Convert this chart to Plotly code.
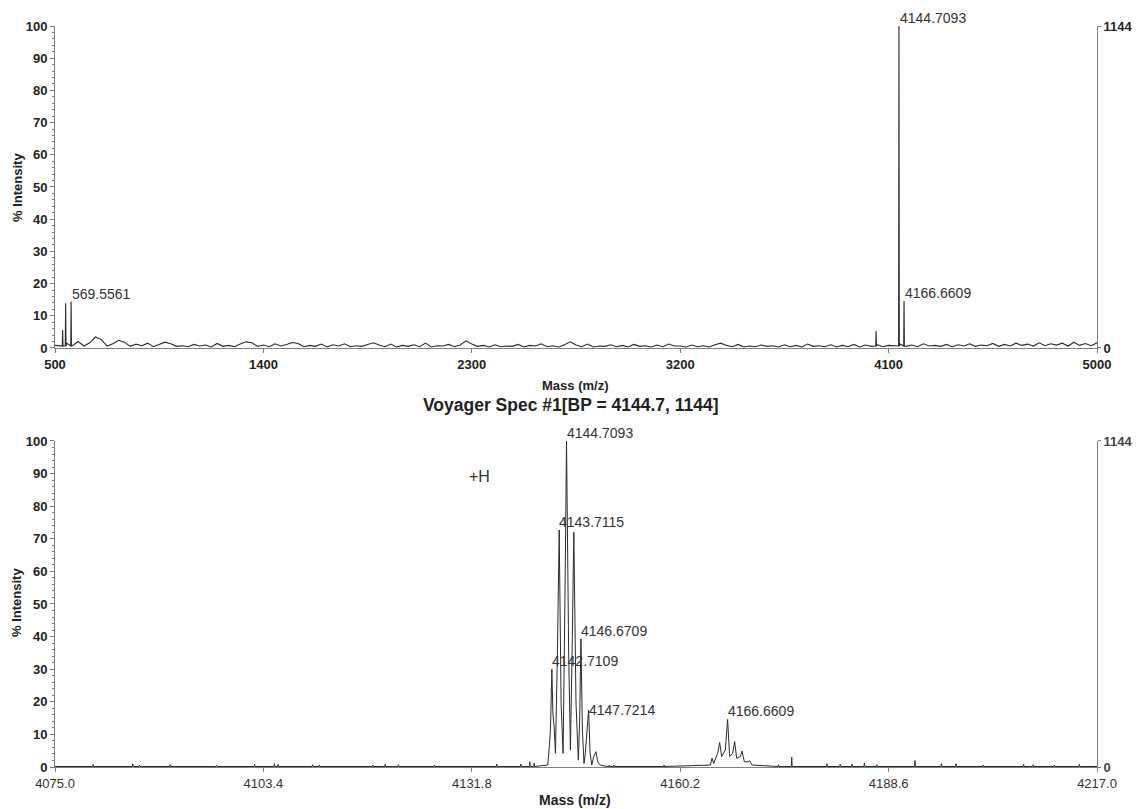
import plotly.graph_objects as go

# ---------------- data ----------------
# Top panel: full scan 500-5000 m/z
top_peak_mz = [533.0, 546.0, 569.5561, 4046.0, 4144.7093, 4166.6609]
top_peak_int = [5.6, 13.9, 14.4, 5.3, 100.0, 14.6]
top_peak_labels = ["", "", "569.5561", "", "4144.7093", "4166.6609"]

top_noise_mz = [500, 550, 600, 650, 700, 750, 800, 850, 900, 950,
                1000, 1050, 1100, 1150, 1200, 1250, 1300, 1350, 1400, 1450,
                1500, 1550, 1600, 1650, 1700, 1750, 1800, 1850, 1900, 1950,
                2000, 2050, 2100, 2150, 2200, 2250, 2300, 2350, 2400, 2450,
                2500, 2550, 2600, 2650, 2700, 2750, 2800, 2850, 2900, 2950,
                3000, 3050, 3100, 3150, 3200, 3250, 3300, 3350, 3400, 3450,
                3500, 3550, 3600, 3650, 3700, 3750, 3800, 3850, 3900, 3950,
                4000, 4050, 4100, 4150, 4200, 4250, 4300, 4350, 4400, 4450,
                4500, 4550, 4600, 4650, 4700, 4750, 4800, 4850, 4900, 4950, 5000]
top_noise_int = [0.8, 1.5, 2.0, 1.6, 2.6, 1.3, 1.8, 1.2, 1.5, 1.0,
                 1.3, 0.7, 1.1, 0.9, 1.4, 0.8, 1.2, 1.6, 0.9, 1.3,
                 1.1, 1.4, 0.8, 1.2, 1.0, 1.3, 0.7, 1.1, 0.9, 1.2,
                 0.8, 1.0, 1.5, 0.7, 1.1, 0.9, 1.2, 0.8, 1.0, 0.6,
                 1.1, 0.8, 1.3, 0.7, 1.0, 0.9, 1.2, 0.6, 1.0, 0.8,
                 1.1, 0.7, 0.9, 1.2, 0.6, 0.9, 0.7, 1.0, 0.8, 1.1,
                 0.6, 0.9, 0.7, 1.0, 0.8, 1.2, 0.7, 1.0, 0.8, 1.1,
                 0.9, 1.0, 0.8, 1.2, 0.9, 1.3, 0.8, 1.1, 1.0, 1.3,
                 0.9, 1.4, 1.1, 1.5, 1.2, 1.6, 1.3, 1.5, 1.8, 1.4, 1.6]
top_noise_mid_mz = [525, 575, 625, 675, 725, 775, 825, 875, 925, 975,
                    1025, 1075, 1125, 1175, 1225, 1275, 1325, 1375, 1425, 1475,
                    1525, 1575, 1625, 1675, 1725, 1775, 1825, 1875, 1925, 1975,
                    2025, 2075, 2125, 2175, 2225, 2275, 2325, 2375, 2425, 2475,
                    2525, 2575, 2625, 2675, 2725, 2775, 2825, 2875, 2925, 2975,
                    3025, 3075, 3125, 3175, 3225, 3275, 3325, 3375, 3425, 3475,
                    3525, 3575, 3625, 3675, 3725, 3775, 3825, 3875, 3925, 3975,
                    4025, 4075, 4125, 4175, 4225, 4275, 4325, 4375, 4425, 4475,
                    4525, 4575, 4625, 4675, 4725, 4775, 4825, 4875, 4925, 4975]
top_noise_mid_int = [0.5, 0.7, 0.6, 3.4, 0.6, 2.4, 0.5, 0.7, 0.4, 1.8,
                     0.5, 0.4, 0.6, 0.3, 0.5, 0.4, 1.9, 0.5, 0.4, 0.6,
                     1.7, 0.4, 0.5, 0.3, 0.6, 0.4, 0.5, 1.6, 0.4, 0.3,
                     0.5, 0.4, 0.3, 0.6, 0.4, 2.2, 0.5, 0.3, 0.4, 0.5,
                     0.3, 0.6, 0.4, 0.3, 1.9, 0.4, 0.3, 0.5, 0.4, 0.3,
                     0.5, 0.3, 0.4, 0.6, 0.3, 0.4, 0.3, 1.5, 0.4, 0.3,
                     0.4, 0.5, 0.3, 0.4, 0.3, 0.5, 0.4, 0.3, 0.4, 0.3,
                     0.5, 0.4, 0.6, 0.5, 0.4, 0.6, 0.5, 0.4, 0.6, 0.5,
                     0.7, 0.5, 0.6, 0.8, 0.6, 0.7, 0.9, 0.6, 0.8, 0.7]

# Bottom panel: zoom 4075-4217 m/z, isotope profile
bot_profile_mz = [4142.15, 4142.33, 4142.52, 4142.71, 4142.85, 4143.02, 4143.20,
                  4143.47, 4143.71, 4143.97, 4144.24, 4144.51, 4144.71, 4145.00,
                  4145.24, 4145.50, 4145.70, 4146.00, 4146.14, 4146.32, 4146.50,
                  4146.67, 4146.87, 4147.09, 4147.27, 4147.52, 4147.72, 4147.92,
                  4148.15, 4148.42, 4148.72, 4148.95, 4149.30, 4149.85,
                  4164.31, 4164.54, 4164.76, 4165.31, 4165.58, 4165.85, 4166.35,
                  4166.66, 4166.94, 4167.35, 4167.62, 4167.89, 4168.40, 4168.62,
                  4168.94, 4169.40, 4169.67, 4169.99]
bot_profile_int = [0.6, 5.2, 11.3, 30.0, 16.5, 12.4, 4.2,
                   35.0, 72.7, 19.5, 4.2, 55.0, 100.0, 35.0,
                   5.2, 40.0, 72.0, 19.5, 13.4, 2.1, 14.4,
                   39.3, 11.3, 1.1, 4.2, 13.4, 17.5, 4.2,
                   0.6, 3.2, 4.7, 1.6, 0.6, 0.3,
                   0.6, 2.7, 1.1, 4.2, 7.5, 3.2, 5.2,
                   14.6, 3.2, 4.2, 7.8, 2.7, 3.2, 4.9,
                   1.6, 1.6, 1.9, 0.6]
bot_noise_mz = [4080.2, 4085.6, 4086.5, 4090.7, 4097.0, 4102.2, 4104.9, 4105.4,
                4110.1, 4111.0, 4118.3, 4120.0, 4121.8, 4126.7, 4135.2, 4138.5,
                4139.7, 4140.3, 4150.5, 4151.2, 4158.0, 4173.6, 4175.4, 4180.2,
                4182.0, 4183.6, 4185.3, 4187.0, 4192.2, 4195.8, 4197.8, 4201.5,
                4207.0, 4208.3, 4211.2, 4214.6]
bot_noise_int = [0.8, 1.0, 0.6, 0.7, 0.5, 0.8, 1.0, 0.8,
                 0.7, 0.6, 0.6, 0.8, 0.7, 0.6, 0.9, 0.9,
                 1.6, 1.2, 0.5, 0.6, 0.6, 0.7, 3.0, 1.0,
                 0.8, 0.9, 1.2, 0.7, 2.0, 1.0, 1.0, 0.6,
                 0.8, 0.7, 0.6, 0.8]
bot_labels_mz = [4144.7093, 4143.7115, 4146.6709, 4142.7109, 4147.7214, 4166.6609]
bot_labels_int = [100.0, 72.7, 39.3, 30.0, 17.5, 14.6]
bot_labels_text = ["4144.7093", "4143.7115", "4146.6709", "4142.7109", "4147.7214", "4166.6609"]
bot_labels_dy = [0, 0, 0, 0, -8, 0]

top_xticks = [500, 1400, 2300, 3200, 4100, 5000]
bot_xticks = [4075.0, 4103.4, 4131.8, 4160.2, 4188.6, 4217.0]
y_ticks = [0, 10, 20, 30, 40, 50, 60, 70, 80, 90, 100]
bp_counts = 1144
title_text = "Voyager Spec #1[BP = 4144.7, 1144]"

# ---------------- build traces ----------------
def build_top():
    pts = list(zip(top_noise_mz, top_noise_int)) + list(zip(top_noise_mid_mz, top_noise_mid_int))
    for m, h in zip(top_peak_mz, top_peak_int):
        pts += [(m - 1.5, 0.6), (m, h), (m + 1.5, 0.6)]
    pts.sort(key=lambda p: p[0])
    return [p[0] for p in pts], [p[1] for p in pts]

def build_bottom():
    pts = [(bot_xticks[0], 0.15), (bot_xticks[-1], 0.15)]
    pts += list(zip(bot_profile_mz, bot_profile_int))
    for m, h in zip(bot_noise_mz, bot_noise_int):
        pts += [(m - 0.06, 0.15), (m, h), (m + 0.06, 0.15)]
    pts.sort(key=lambda p: p[0])
    return [p[0] for p in pts], [p[1] for p in pts]

tx, ty = build_top()
bx, by = build_bottom()

line_col = "#2a2a2a"
axis_col = "#808080"
text_col = "#222222"
FONT = "Liberation Sans, Arial, sans-serif"

fig = go.Figure()
fig.add_trace(go.Scatter(x=tx, y=ty, mode="lines", line=dict(color=line_col, width=1.1),
                         xaxis="x", yaxis="y", showlegend=False, hoverinfo="skip"))
fig.add_trace(go.Scatter(x=[top_xticks[0], top_xticks[-1]], y=[0, 0], mode="lines",
                         line=dict(width=0), xaxis="x", yaxis="y2", showlegend=False, hoverinfo="skip"))
fig.add_trace(go.Scatter(x=bx, y=by, mode="lines", line=dict(color=line_col, width=1),
                         xaxis="x2", yaxis="y3", showlegend=False, hoverinfo="skip"))
fig.add_trace(go.Scatter(x=[bot_xticks[0], bot_xticks[-1]], y=[0, 0], mode="lines",
                         line=dict(width=0), xaxis="x2", yaxis="y4", showlegend=False, hoverinfo="skip"))

bold13 = dict(family=FONT, size=13, color=text_col, weight="bold")
reg13 = dict(family=FONT, size=13, color="#333333")

common_y = dict(range=[0, 100], tickmode="array", tickvals=y_ticks, ticks="outside", ticklen=4,
                tickcolor=axis_col, showline=True, linecolor=axis_col, linewidth=1,
                showgrid=False, zeroline=False, tickfont=bold13, automargin=False,
                minor=dict(dtick=2, ticklen=2, tickcolor=axis_col, ticks="outside", showgrid=False))

fig.update_layout(
    width=1138, height=809,
    margin=dict(l=55, r=41, t=26, b=42, autoexpand=False),
    paper_bgcolor="white", plot_bgcolor="white",
    font=dict(family=FONT, color=text_col),
    xaxis=dict(domain=[0, 1], anchor="y", range=[top_xticks[0], top_xticks[-1]],
               tickmode="array", tickvals=top_xticks, ticktext=[str(v) for v in top_xticks],
               ticks="outside", ticklen=4, tickcolor=axis_col, showline=True, linecolor=axis_col,
               showgrid=False, zeroline=False, tickfont=bold13, automargin=False),
    yaxis=dict(domain=[0.5655, 1], anchor="x", **common_y),
    yaxis2=dict(overlaying="y", anchor="x", side="right", range=[0, bp_counts],
                tickmode="array", tickvals=[0, bp_counts], ticks="outside", ticklen=3,
                tickcolor=axis_col, showline=True, linecolor=axis_col, showgrid=False,
                zeroline=False, tickfont=bold13, automargin=False),
    xaxis2=dict(domain=[0, 1], anchor="y3", range=[bot_xticks[0], bot_xticks[-1]],
                tickmode="array", tickvals=bot_xticks, ticktext=[f"{v:.1f}" for v in bot_xticks],
                ticks="outside", ticklen=4, tickcolor=axis_col, showline=True, linecolor=axis_col,
                showgrid=False, zeroline=False, tickfont=reg13, automargin=False),
    yaxis3=dict(domain=[0, 0.44], anchor="x2", **common_y),
    yaxis4=dict(overlaying="y3", anchor="x2", side="right", range=[0, bp_counts],
                tickmode="array", tickvals=[0, bp_counts], ticks="outside", ticklen=3,
                tickcolor=axis_col, showline=True, linecolor=axis_col, showgrid=False,
                zeroline=False, automargin=False,
                tickfont=dict(family=FONT, size=13, color="#444444", weight="bold")),
)

ann = []
lab_font = dict(family=FONT, size=14, color="#333333")
for m, h, t in zip(top_peak_mz, top_peak_int, top_peak_labels):
    if t:
        ann.append(dict(x=m, y=h, xref="x", yref="y", text=t, showarrow=False,
                        xanchor="left", yanchor="bottom", xshift=-1, yshift=-2, font=lab_font))
for m, h, t, dy in zip(bot_labels_mz, bot_labels_int, bot_labels_text, bot_labels_dy):
    ann.append(dict(x=m, y=h, xref="x2", yref="y3", text=t, showarrow=False,
                    xanchor="left", yanchor="bottom", xshift=-2, yshift=-2 + dy, font=lab_font))
ann.append(dict(x=4132.9, y=89, xref="x2", yref="y3", text="+H", showarrow=False,
                xanchor="center", yanchor="middle", font=dict(family=FONT, size=16, color="#333333")))
ann.append(dict(x=-0.0365, y=0.7827, xref="paper", yref="paper", text="% Intensity", textangle=-90,
                showarrow=False, xanchor="center", yanchor="middle", font=bold13))
ann.append(dict(x=-0.0365, y=0.2227, xref="paper", yref="paper", text="% Intensity", textangle=-90,
                showarrow=False, xanchor="center", yanchor="middle", font=bold13))
ann.append(dict(x=0.499, y=0.5155, xref="paper", yref="paper", text="Mass (m/z)", showarrow=False,
                xanchor="center", yanchor="middle", font=bold13))
ann.append(dict(x=0.499, y=-0.0445, xref="paper", yref="paper", text="Mass (m/z)", showarrow=False,
                xanchor="center", yanchor="middle", font=dict(family=FONT, size=14, color=text_col, weight="bold")))
ann.append(dict(x=0.495, y=0.4885, xref="paper", yref="paper", text=title_text, showarrow=False,
                xanchor="center", yanchor="middle",
                font=dict(family=FONT, size=17.5, color=text_col, weight="bold")))
fig.update_layout(annotations=ann)

fig.write_html("out.html", config={"displayModeBar": False},
               post_script="document.body.style.margin='0px';")
